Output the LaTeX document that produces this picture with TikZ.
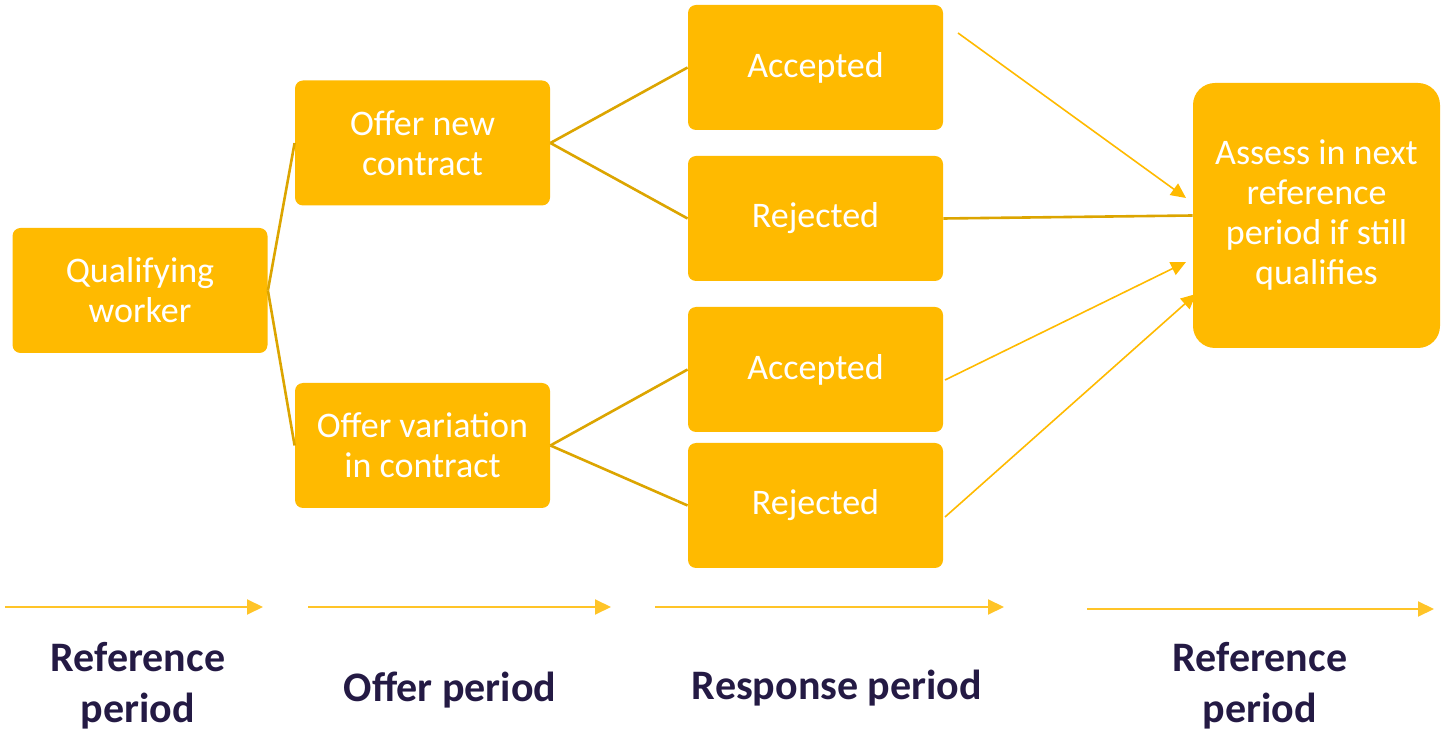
\documentclass[tikz,border=0pt]{standalone}
\usepackage{fontspec}
\setmainfont{Carlito}
\usetikzlibrary{arrows.meta}

\definecolor{amber}{RGB}{255,186,0}
\definecolor{darkamber}{RGB}{220,165,0}
\definecolor{lightamber}{RGB}{255,196,40}
\definecolor{navy}{RGB}{36,26,68}

\begin{document}
\begin{tikzpicture}
		[x=0.5pt, y=-0.5pt,
		 box/.style = {fill=amber, rounded corners=4pt, minimum width=127.5pt, minimum height=62.5pt,
		               text=white, align=center, font=\fontsize{18}{20}\selectfont},
		 link/.style = {draw=darkamber, line width=1.3pt},
		 feed/.style = {draw=amber, line width=0.8pt, -{Triangle[length=7.5pt,width=7pt]}},
		 period/.style = {draw=lightamber, line width=1pt, -{Triangle[length=8pt,width=7.5pt]}},
		 phase/.style = {text=navy, align=center, font=\bfseries\fontsize{21}{25.5}\selectfont}]
        \useasboundingbox (0,0) rectangle (1441,732);

        % boxes
        \node[box] (1) at (140,290.5) {Qualifying\\worker};
        \node[box] (2) at (422.5,143) {Offer new\\contract};
        \node[box] (3) at (422.5,445.5) {Offer variation\\in contract};
        \node[box] (4) at (815.5,67.5) {Accepted};
        \node[box] (5) at (815.5,218.5) {Rejected};
        \node[box] (6) at (815.5,369.5) {Accepted};
        \node[box] (7) at (815.5,505.5) {Rejected};
        \node[box, rounded corners=11pt, minimum width=123.5pt, minimum height=132.5pt] (8) at (1316.5,215.5)
             {Assess in next\\reference\\period if still\\qualifies};

        % branching
        \draw[link] (1.east) -- (2.west);
        \draw[link] (1.east) -- (3.west);
        \draw[link] (2.east) -- (4.west);
        \draw[link] (2.east) -- (5.west);
        \draw[link] (3.east) -- (6.west);
        \draw[link] (3.east) -- (7.west);

        % back to assessment
        \coordinate (4out) at (958,33);
        \coordinate (6out) at (945,380);
        \coordinate (7out) at (945,517);
        \coordinate (8in1) at (1186,198);
        \coordinate (8in2) at (1186,262);
        \coordinate (8in3) at (1196,294);
        \draw[feed] (4out) -- (8in1);
        \draw[link] (5.east) -- (8.west);
        \draw[feed] (6out) -- (8in2);
        \draw[feed] (7out) -- (8in3);

        % time line
        \coordinate (t1) at (5,607);    \coordinate (t2) at (263,607);
        \coordinate (t3) at (308,607);  \coordinate (t4) at (611,607);
        \coordinate (t5) at (655,607);  \coordinate (t6) at (1004,607);
        \coordinate (t7) at (1087,609); \coordinate (t8) at (1434,609);
        \draw[period] (t1) -- (t2);
        \draw[period] (t3) -- (t4);
        \draw[period] (t5) -- (t6);
        \draw[period] (t7) -- (t8);

        \node[phase] (p1) at (138,686) {Reference\\period};
        \node[phase] (p2) at (450,690) {Offer period};
        \node[phase] (p3) at (837,688) {Response period};
        \node[phase] (p4) at (1260,686) {Reference\\period};
	\end{tikzpicture}
\end{document}
